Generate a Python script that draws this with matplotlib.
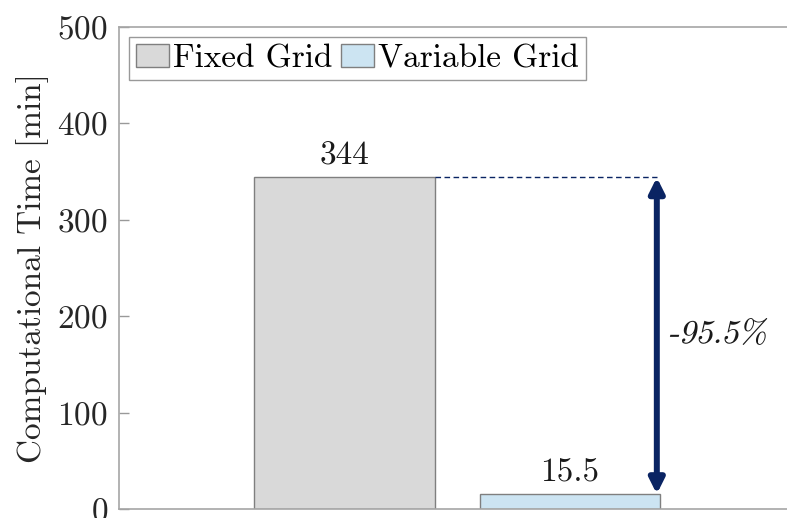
import numpy as np
import matplotlib
matplotlib.use("Agg")
import matplotlib.pyplot as plt
from matplotlib.transforms import Affine2D
from matplotlib.patheffects import AbstractPathEffect

# data
categories = ["Fixed Grid", "Variable Grid"]
times = [344, 15.5]
labels = ["344", "15.5"]
reduction = "-95.5%"
yticks = [0, 100, 200, 300, 400, 500]

plt.rcParams["font.family"] = "cmr10"
plt.rcParams["mathtext.fontset"] = "cm"
plt.rcParams["axes.formatter.use_mathtext"] = True

bar_colors = ["#d9d9d9", "#cce4f2"]
navy = "#0a2463"
fs = 24


class Slant(AbstractPathEffect):
    """fake italic: shear the glyph outlines about the text origin"""
    def __init__(self, deg=13):
        super().__init__()
        self.deg = deg

    def draw_path(self, renderer, gc, tpath, affine, rgbFace=None):
        ox, oy = affine.transform((0, 0))
        shear = Affine2D().translate(-ox, -oy).skew_deg(self.deg, 0).translate(ox, oy)
        renderer.draw_path(gc, tpath, affine + shear, rgbFace)


fig = plt.figure(figsize=(7.87, 5.18), dpi=100)
ax = fig.add_axes([119 / 787, 9 / 518, 668 / 787, 482 / 518])

x = np.arange(1, len(times) + 1)
bars = ax.bar(x, times, width=0.8, color=bar_colors, edgecolor="#7f7f7f",
              linewidth=1, label=categories)

for xi, t, lab in zip(x, times, labels):
    ax.annotate(lab, (xi, t), xytext=(0, 5), textcoords="offset points",
                ha="center", va="bottom", fontsize=fs, color="#1a1a1a")

# reduction arrow + dashed guide
ax_x = 2.385
ax.plot([x[0] + 0.4, ax_x], [times[0], times[0]], color=navy, lw=1,
        linestyle=(0, (4, 2.5)))
ax.annotate("", xy=(ax_x, times[1]), xytext=(ax_x, times[0]),
            arrowprops=dict(arrowstyle="<|-|>", color=navy, lw=4.3,
                            mutation_scale=22, shrinkA=0, shrinkB=0))
ax.text(2.435, 181, reduction, fontsize=fs, va="center", ha="left",
        color="#1a1a1a", path_effects=[Slant(13)])

ax.set_xlim(0, (787 - 119) / 225.5)
ax.set_ylim(0, 500)
ax.set_yticks(yticks)
ax.set_xticks([])
ax.tick_params(axis="y", direction="in", length=7, width=1, color="#999999",
               labelsize=fs, labelcolor="#262626", pad=8)
ax.set_ylabel("Computational Time [min]", fontsize=fs, color="#262626",
              labelpad=6)
for side in ["left", "bottom", "top"]:
    ax.spines[side].set_color("#a6a6a6")
    ax.spines[side].set_linewidth(1.2)
ax.spines["right"].set_visible(False)

leg = ax.legend(loc="upper left", ncol=2, fontsize=fs, frameon=True,
                fancybox=False, framealpha=1, edgecolor="#999999",
                handlelength=1.0, handleheight=0.7, handletextpad=0.12,
                columnspacing=0.25, borderpad=0.2, borderaxespad=0.3)
leg.get_frame().set_linewidth(1)

fig.savefig("out.png", dpi=100)
